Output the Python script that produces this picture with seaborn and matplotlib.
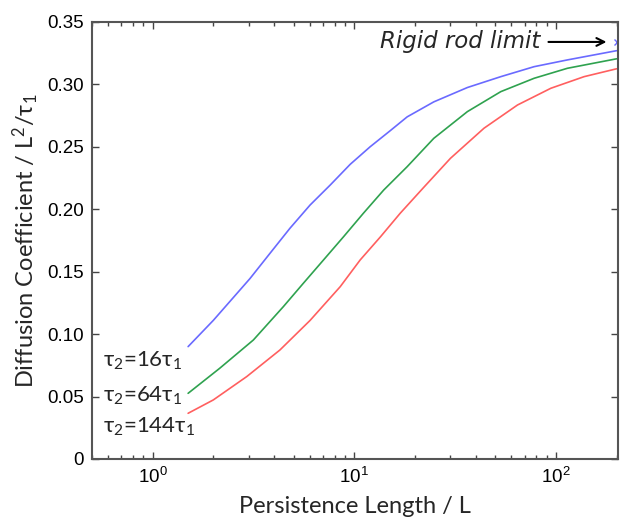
import numpy as np
import pandas as pd
import matplotlib
matplotlib.use("Agg")
import matplotlib.pyplot as plt
import matplotlib.ticker as mticker
import seaborn as sns

# ---- data ----
x_16 = [1.5, 2.0, 3.04, 3.82, 4.80, 6.04, 7.60, 9.55, 12.0, 15.1, 18.3, 24.8, 36.4, 53.3, 78.0, 114.0, 200.0]
y_16 = [0.0900, 0.111, 0.1445, 0.1647, 0.1848, 0.2034, 0.2194, 0.2360, 0.2501, 0.2630, 0.2740, 0.2860, 0.2975, 0.3062, 0.3142, 0.3196, 0.327]

x_64 = [1.5, 2.15, 3.16, 4.45, 5.59, 7.04, 8.85, 11.1, 14.0, 18.3, 24.8, 36.4, 53.3, 78.0, 114.0, 200.0]
y_64 = [0.0526, 0.0726, 0.0953, 0.1220, 0.1407, 0.1594, 0.1780, 0.1968, 0.2154, 0.2341, 0.2568, 0.2782, 0.2942, 0.3049, 0.3129, 0.3205]

x_144 = [1.5, 2.0, 2.93, 4.28, 6.04, 8.52, 10.7, 13.5, 16.9, 22.1, 30.0, 44.0, 64.5, 94.4, 138.0, 200.0]
y_144 = [0.0366, 0.0473, 0.066, 0.0873, 0.1110, 0.138, 0.1594, 0.178, 0.1968, 0.2175, 0.2408, 0.2649, 0.2835, 0.2969, 0.3062, 0.3125]

series_names = ["16", "64", "144"]
series_labels = [r"τ$_2$=16τ$_1$", r"τ$_2$=64τ$_1$", r"τ$_2$=144τ$_1$"]
rigid_limit_x = 200.0
rigid_limit_y = 0.334

yticks = [0, 0.05, 0.10, 0.15, 0.20, 0.25, 0.30, 0.35]
ytick_labels = ["0", "0.05", "0.10", "0.15", "0.20", "0.25", "0.30", "0.35"]
xticks = [1, 10, 100]
xtick_labels = ["10$^{0}$", "10$^{1}$", "10$^{2}$"]

df = pd.concat([
    pd.DataFrame({"x": x_16, "y": y_16, "s": series_names[0]}),
    pd.DataFrame({"x": x_64, "y": y_64, "s": series_names[1]}),
    pd.DataFrame({"x": x_144, "y": y_144, "s": series_names[2]}),
], ignore_index=True)

sns.set_style("ticks")
plt.rcParams["font.family"] = ["Lato", "DejaVu Sans"]
plt.rcParams["mathtext.fontset"] = "custom"
plt.rcParams["mathtext.rm"] = "Lato"
plt.rcParams["mathtext.default"] = "regular"

palette = {"16": "#6a6aff", "64": "#2fa24f", "144": "#ff5f5f"}

fig = plt.figure(figsize=(6.21, 5.23), dpi=100)
fig.patch.set_facecolor("white")
ax = fig.add_axes([0.148, 0.1224, 0.847, 0.8356])

sns.lineplot(data=df, x="x", y="y", hue="s", palette=palette, ax=ax,
             legend=False, linewidth=1.2, sort=True, estimator=None)
ax.plot([rigid_limit_x], [rigid_limit_y], marker="x", color="#6a6aff",
        markersize=4, mew=1.0, clip_on=True)

ax.set_xscale("log")
ax.set_xlim(0.5, 203)
ax.set_ylim(0, 0.35)

ax.set_yticks(yticks)
ax.set_yticklabels(ytick_labels, fontfamily="Liberation Sans", fontsize=13.5)
ax.xaxis.set_major_locator(mticker.FixedLocator(xticks))
ax.xaxis.set_major_formatter(mticker.FixedFormatter(xtick_labels))
ax.xaxis.set_minor_locator(mticker.LogLocator(base=10, subs=np.arange(2, 10)))
ax.xaxis.set_minor_formatter(mticker.NullFormatter())
for lab in ax.get_xticklabels():
    lab.set_fontfamily("Liberation Sans")
    lab.set_fontsize(13.5)

ax.tick_params(axis="both", which="major", direction="in", length=5, width=1.0,
               top=True, right=True, colors="#444444", labelcolor="black", pad=6)
ax.tick_params(axis="x", which="minor", direction="in", length=3, width=1.0,
               top=True, colors="#444444")
for sp in ax.spines.values():
    sp.set_visible(True)
    sp.set_color("#555555")
    sp.set_linewidth(1.5)

ax.set_xlabel("Persistence Length / L", fontsize=17, labelpad=6)
ax.set_ylabel(r"Diffusion Coefficient / L$^2$/τ$_1$", fontsize=17, labelpad=4)

label_y = [0.0737, 0.0457, 0.0208]
for lab, yy in zip(series_labels, label_y):
    ax.text(0.565, yy, lab, fontsize=16, ha="left", va="baseline")

ax.text(84, rigid_limit_y, "Rigid rod limit", fontsize=16.5, style="italic",
        family=["DejaVu Sans"], ha="right", va="center")
ax.annotate("", xy=(184, rigid_limit_y), xytext=(89, rigid_limit_y),
            arrowprops=dict(arrowstyle="->", lw=1.5, color="black",
                            mutation_scale=14))

fig.savefig("out.png", dpi=100, facecolor="white")
